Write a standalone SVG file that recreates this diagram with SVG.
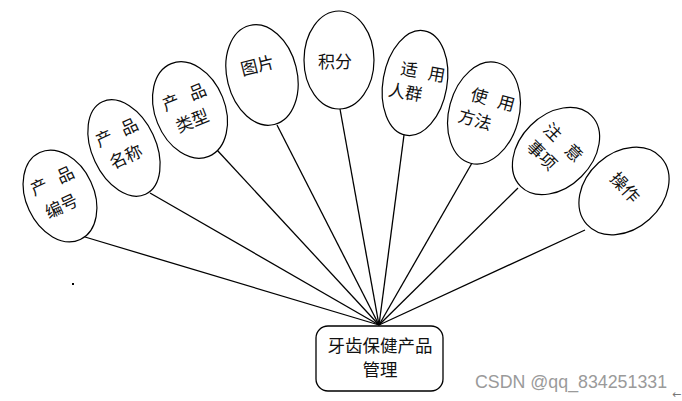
<svg xmlns="http://www.w3.org/2000/svg" width="682" height="401" viewBox="0 0 682 401">
<style>
.e{fill:#fff;stroke:#000;stroke-width:1.2}
.t{font-family:"Noto Sans CJK SC","Noto Sans CJK JP",sans-serif;font-size:17px;fill:#111;text-anchor:middle}
.c line{stroke:#000;stroke-width:1.3}
</style>
<rect width="682" height="401" fill="#fff"/>
<g class="c" id="connectors">
<line x1="85" y1="237" x2="379" y2="325"/>
<line x1="150" y1="193" x2="379" y2="325"/>
<line x1="217" y1="150" x2="379" y2="325"/>
<line x1="277" y1="125" x2="379" y2="325"/>
<line x1="340" y1="109" x2="379" y2="325"/>
<line x1="404" y1="135" x2="379" y2="325"/>
<line x1="472" y1="163" x2="379" y2="325"/>
<line x1="518" y1="188" x2="379" y2="325"/>
<line x1="585" y1="230" x2="379" y2="325"/>
</g>
<g id="n1" transform="translate(60,196) rotate(-25)">
<ellipse class="e" rx="34" ry="48"/>
<text class="t" y="-11"><tspan x="-15">产</tspan><tspan x="14">品</tspan></text>
<text class="t" x="-3" y="16">编号</text>
</g>
<g id="n2" transform="translate(124,148) rotate(-25)">
<ellipse class="e" rx="32" ry="51"/>
<text class="t" y="-11"><tspan x="-14">产</tspan><tspan x="14">品</tspan></text>
<text class="t" x="-2" y="15">名称</text>
</g>
<g id="n3" transform="translate(190,110) rotate(-22)">
<ellipse class="e" rx="35" ry="50"/>
<text class="t" y="-8"><tspan x="-15">产</tspan><tspan x="14">品</tspan></text>
<text class="t" x="-2" y="17">类型</text>
</g>
<g id="n4" transform="translate(262,75) rotate(-14)">
<ellipse class="e" rx="35" ry="51"/>
<text class="t" x="-2" y="-4">图片</text>
</g>
<g id="n5" transform="translate(339,60)">
<ellipse class="e" rx="35" ry="49"/>
<text class="t" x="-4" y="8">积分</text>
</g>
<g id="n6" transform="translate(415,83) rotate(10)">
<ellipse class="e" rx="32" ry="53"/>
<text class="t" y="-6"><tspan x="-8">适</tspan><tspan x="20">用</tspan></text>
<text class="t" x="-8" y="17">人群</text>
</g>
<g id="n7" transform="translate(484,113) rotate(15)">
<ellipse class="e" rx="35" ry="52"/>
<text class="t" y="-9"><tspan x="-9">使</tspan><tspan x="19">用</tspan></text>
<text class="t" x="-7" y="15">方法</text>
</g>
<g id="n8" transform="translate(556,151) rotate(45)">
<ellipse class="e" rx="36" ry="50"/>
<text class="t" y="-5"><tspan x="-16">注</tspan><tspan x="14">意</tspan></text>
<text class="t" x="-7" y="19">事项</text>
</g>
<g id="n9" transform="translate(624,191) rotate(48)">
<ellipse class="e" rx="38" ry="50"/>
<text class="t" x="-2" y="3">操作</text>
</g>
<g id="center">
<rect x="316" y="326" width="127" height="65" rx="12" fill="#fff" stroke="#000" stroke-width="1.3"/>
<text class="t" x="380" y="352" style="font-size:17.5px">牙齿保健产品</text>
<text class="t" x="380" y="376" style="font-size:17.5px">管理</text>
</g>
<rect x="72" y="283" width="2" height="2" fill="#000"/>
<text x="475" y="388" style="font-family:'Liberation Sans',sans-serif;font-size:17.8px;fill:#9a9a9a">CSDN @qq_834251331</text>
<text x="672" y="398" style="font-family:'DejaVu Sans',sans-serif;font-size:11px;fill:#777">←</text>
</svg>
